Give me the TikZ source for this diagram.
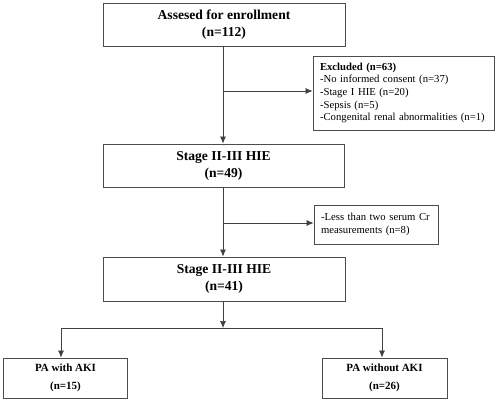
\documentclass[tikz,border=0pt]{standalone}
\usepackage{fontspec}
\setmainfont{Liberation Serif}
\usetikzlibrary{arrows.meta}
\begin{document}
\begin{tikzpicture}[x=1pt,y=-1pt,
  box/.style={draw=black!70, line width=0.8pt, inner sep=0pt, align=center,
    font=\bfseries\fontsize{13.6}{17}\selectfont},
  sbox/.style={draw=black!70, line width=0.8pt, inner sep=0pt, align=center,
    font=\bfseries\fontsize{11}{17.5}\selectfont},
  exbox/.style={draw=black!70, line width=0.8pt, inner sep=0pt, align=left,
    font=\fontsize{10.7}{12.6}\selectfont},
  arr/.style={draw=black!75, line width=0.7pt, -{Latex[length=7pt,width=6pt]}},
  ln/.style={draw=black!75, line width=0.7pt}]
\useasboundingbox (0,0) rectangle (500,402);
\node[box, minimum width=242pt, minimum height=43pt] (a) at (224,24.5) {Assesed for enrollment\\(n=112)};
\node[exbox, minimum width=181pt, minimum height=74pt, text width=167pt] (ex1) at (403.5,93)
  {\textbf{Excluded (n=63)}\\-No informed consent (n=37)\\-Stage I HIE (n=20)\\-Sepsis (n=5)\\-Congenital renal abnormalities (n=1)};
\node[box, minimum width=241pt, minimum height=43pt] (b) at (223.5,165.5) {Stage II-III HIE\\(n=49)};
\node[exbox, minimum width=124pt, minimum height=39pt, text width=110pt] (ex2) at (376,224.5)
  {-Less than two serum Cr\\measurements (n=8)};
\node[box, minimum width=242pt, minimum height=44pt] (c) at (224,279) {Stage II-III HIE\\(n=41)};
\node[sbox, minimum width=124pt, minimum height=40pt] (l) at (65.5,378) {PA with AKI\\(n=15)};
\node[sbox, minimum width=125pt, minimum height=40pt] (r) at (384.5,378) {PA without AKI\\(n=26)};
\coordinate (j1) at (223,91);
\coordinate (j2) at (223,223);
\coordinate (s) at (223,328);
\coordinate (sl) at (61,328);
\coordinate (sr) at (382,328);
\draw[arr] (a.south -| j1) -- (b.north -| j1);
\draw[arr] (j1) -- (ex1.west |- j1);
\draw[arr] (b.south -| j2) -- (c.north -| j2);
\draw[arr] (j2) -- (ex2.west |- j2);
\draw[arr] (c.south -| s) -- (s);
\draw[ln] (sl) -- (sr);
\draw[arr] (sl) -- (sl |- l.north);
\draw[arr] (sr) -- (sr |- r.north);
\end{tikzpicture}
\end{document}
